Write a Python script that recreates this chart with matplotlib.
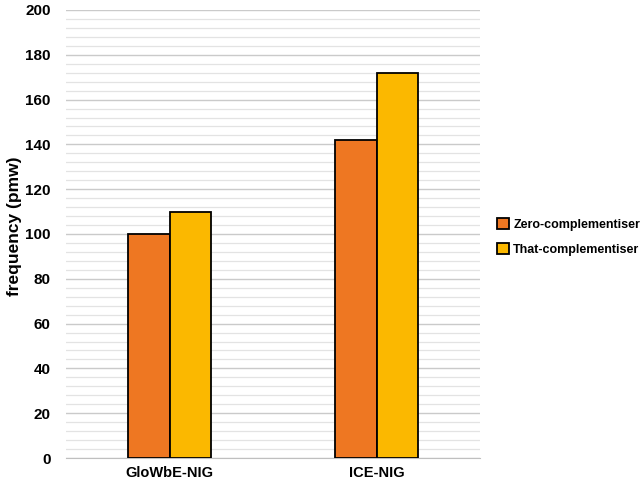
import numpy as np
import matplotlib.pyplot as plt
from matplotlib.ticker import MultipleLocator

# data
corpora = ["GloWbE-NIG", "ICE-NIG"]
zero_comp = [100, 142]
that_comp = [110, 172]
series_names = ["Zero-complementiser", "That-complementiser"]

plt.rcParams['font.family'] = ['Liberation Sans', 'DejaVu Sans']
plt.rcParams['font.weight'] = 'bold'

fig = plt.figure(figsize=(6.44, 4.82), dpi=100)
ax = fig.add_axes([66/644, 1 - 458/482, 414/644, 448/482])

x = np.arange(len(corpora))
w = 0.2
ax.bar(x - w/2, zero_comp, w, color="#EE7722", edgecolor="black", linewidth=1.3,
       label=series_names[0], zorder=3)
ax.bar(x + w/2, that_comp, w, color="#FBB800", edgecolor="black", linewidth=1.3,
       label=series_names[1], zorder=3)

ax.set_xlim(-0.5, 1.5)
ax.set_ylim(0, 200)
ax.yaxis.set_major_locator(MultipleLocator(20))
ax.yaxis.set_minor_locator(MultipleLocator(4))
ax.grid(axis='y', which='major', color="#CACACA", linewidth=1.0, zorder=0)
ax.grid(axis='y', which='minor', color="#E3E3E3", linewidth=0.9, zorder=0)

ax.set_xticks(x)
ax.set_xticklabels(corpora, fontsize=10.5, fontweight='bold')
ax.tick_params(axis='both', which='both', length=0)
ax.tick_params(axis='y', pad=11, labelsize=11)
ax.tick_params(axis='x', pad=6)
for lbl in ax.get_yticklabels():
    lbl.set_fontweight('bold')

for s in ['top', 'right', 'left']:
    ax.spines[s].set_visible(False)
ax.spines['bottom'].set_color("#BFBFBF")

fig.text(15/644, 1 - 226/482, "frequency (pmw)", rotation=90, ha='center',
         va='center', fontsize=12.5, fontweight='bold')

ax.legend(loc='center left', bbox_to_anchor=(497/644, 1 - 237/482),
          bbox_transform=fig.transFigure, frameon=False, borderpad=0,
          borderaxespad=0, fontsize=9, handlelength=0.95, handleheight=0.95,
          handletextpad=0.35, labelspacing=0.95)

fig.savefig("out.png", dpi=100)
